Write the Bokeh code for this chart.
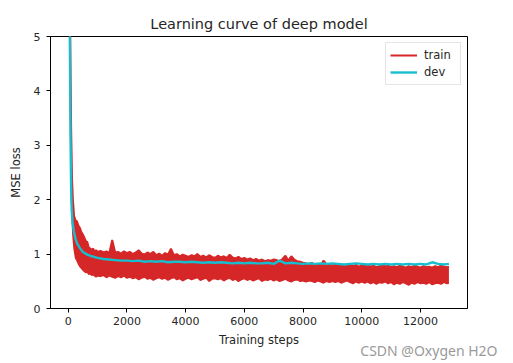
from bokeh.plotting import figure
from bokeh.models import Range1d, FixedTicker, Legend, LegendItem, Title
from bokeh.embed import file_html
from bokeh.resources import INLINE

RED = "#d62728"
CYAN = "#17becf"
TXT = "#262626"
FONT = "DejaVu Sans"

# ---- data ----
train_steps = [
    40, 70, 100, 130, 160, 200, 250, 300, 350, 400, 450, 500, 550, 600, 650,
    700, 750, 800, 850, 900, 950, 1000,
    1100, 1200, 1300, 1400, 1500, 1600, 1700, 1800, 1900, 2000,
    2100, 2200, 2300, 2400, 2500, 2600, 2700, 2800, 2900, 3000,
    3100, 3200, 3300, 3400, 3500, 3600, 3700, 3800, 3900, 4000,
    4100, 4200, 4300, 4400, 4500, 4600, 4700, 4800, 4900, 5000,
    5100, 5200, 5300, 5400, 5500, 5600, 5700, 5800, 5900, 6000,
    6100, 6200, 6300, 6400, 6500, 6600, 6700, 6800, 6900, 7000,
    7100, 7200, 7300, 7400, 7500, 7600, 7700, 7800, 7900, 8000,
    8100, 8200, 8300, 8400, 8500, 8600, 8700, 8800, 8900, 9000,
    9100, 9200, 9300, 9400, 9500, 9600, 9700, 9800, 9900, 10000,
    10100, 10200, 10300, 10400, 10500, 10600, 10700, 10800, 10900, 11000,
    11100, 11200, 11300, 11400, 11500, 11600, 11700, 11800, 11900, 12000,
    12100, 12200, 12300, 12400, 12500, 12600, 12700, 12800, 12900, 12970,
]
# upper edge of the noisy training-loss band
train_hi = [
    6.5, 5.0, 3.3, 2.4, 2.0, 1.7, 1.62, 1.6, 1.52, 1.48, 1.4, 1.36, 1.3, 1.24, 1.22,
    1.12, 1.1, 1.08, 1.1, 1.05, 1.07, 1.04,
    1.06, 1.03, 1.05, 1.02, 1.26, 1.03, 1.04, 1.01, 1.05, 1.02,
    1.04, 1.00, 1.03, 1.07, 1.01, 0.99, 1.03, 1.00, 1.04, 0.98,
    1.01, 0.97, 1.02, 0.99, 1.10, 0.98, 1.00, 0.96, 0.99, 0.97,
    0.95, 0.98, 0.96, 1.00, 0.95, 0.97, 0.94, 0.98, 0.95, 0.93,
    0.97, 0.94, 0.96, 0.93, 0.99, 0.94, 0.92, 0.95, 0.91, 0.93,
    0.90, 0.92, 0.89, 0.91, 0.88, 0.90, 0.87, 0.89, 0.88, 0.90,
    0.89, 0.87, 0.91, 0.97, 0.88, 0.96, 0.90, 0.87, 0.86, 0.84,
    0.83, 0.81, 0.84, 0.80, 0.82, 0.79, 0.88, 0.81, 0.80, 0.79,
    0.81, 0.78, 0.80, 0.77, 0.79, 0.82, 0.78, 0.80, 0.77, 0.79,
    0.78, 0.80, 0.77, 0.79, 0.76, 0.78, 0.81, 0.77, 0.79, 0.76,
    0.78, 0.76, 0.79, 0.77, 0.75, 0.78, 0.76, 0.79, 0.77, 0.75,
    0.78, 0.76, 0.77, 0.75, 0.78, 0.76, 0.79, 0.77, 0.76, 0.77,
]
# lower edge of the noisy training-loss band
train_lo = [
    5.5, 4.0, 2.2, 1.7, 1.35, 1.1, 0.93, 0.88, 0.82, 0.77, 0.74, 0.71, 0.68, 0.66, 0.67,
    0.63, 0.64, 0.61, 0.62, 0.60, 0.58, 0.60,
    0.59, 0.61, 0.57, 0.60, 0.58, 0.56, 0.59, 0.57, 0.60, 0.56,
    0.58, 0.55, 0.57, 0.53, 0.56, 0.58, 0.54, 0.56, 0.52, 0.55,
    0.57, 0.54, 0.56, 0.52, 0.55, 0.57, 0.53, 0.55, 0.51, 0.54,
    0.56, 0.53, 0.55, 0.57, 0.52, 0.54, 0.56, 0.50, 0.54, 0.55,
    0.53, 0.55, 0.51, 0.54, 0.56, 0.52, 0.54, 0.50, 0.53, 0.55,
    0.52, 0.54, 0.51, 0.53, 0.55, 0.50, 0.53, 0.52, 0.54, 0.51,
    0.53, 0.50, 0.52, 0.54, 0.51, 0.49, 0.52, 0.53, 0.50, 0.51,
    0.49, 0.51, 0.50, 0.48, 0.51, 0.49, 0.47, 0.50, 0.48, 0.50,
    0.48, 0.50, 0.47, 0.49, 0.51, 0.48, 0.46, 0.49, 0.47, 0.49,
    0.47, 0.49, 0.46, 0.48, 0.45, 0.48, 0.47, 0.49, 0.46, 0.48,
    0.44, 0.47, 0.45, 0.48, 0.46, 0.43, 0.47, 0.45, 0.48, 0.46,
    0.47, 0.45, 0.48, 0.44, 0.46, 0.47, 0.45, 0.48, 0.46, 0.47,
]

dev_steps = [
    40, 60, 80, 100, 120, 150, 190, 250, 300, 400, 500, 650, 800, 1000,
    1200, 1400, 1600, 1800,
    2000, 2200, 2400, 2600, 2800, 3000, 3200, 3400, 3600, 3800,
    4000, 4200, 4400, 4600, 4800, 5000, 5200, 5400, 5600, 5800,
    6000, 6200, 6400, 6600, 6800, 7000, 7200, 7400, 7600, 7800,
    8000, 8200, 8400, 8600, 8800, 9000, 9200, 9400, 9600, 9800,
    10000, 10200, 10400, 10600, 10800, 11000, 11200, 11400, 11600, 11800,
    12000, 12200, 12400, 12600, 12800, 12970,
]
dev_loss = [
    6.5, 4.6, 3.1, 2.2, 1.8, 1.58, 1.42, 1.28, 1.2, 1.11, 1.04, 0.99, 0.96, 0.93,
    0.91, 0.90, 0.89, 0.88,
    0.88, 0.87, 0.88, 0.86, 0.87, 0.86, 0.87, 0.85, 0.86, 0.86,
    0.85, 0.86, 0.85, 0.84, 0.85, 0.84, 0.85, 0.84, 0.83, 0.84,
    0.83, 0.84, 0.83, 0.83, 0.84, 0.82, 0.88, 0.83, 0.84, 0.83,
    0.82, 0.83, 0.82, 0.83, 0.82, 0.83, 0.82, 0.81, 0.82, 0.83,
    0.82, 0.81, 0.82, 0.81, 0.82, 0.81, 0.82, 0.81, 0.82, 0.81,
    0.82, 0.81, 0.85, 0.82, 0.81, 0.82,
]

x_ticks = [0, 2000, 4000, 6000, 8000, 10000, 12000]
y_ticks = [0, 1, 2, 3, 4, 5]

# ---- figure ----
p = figure(width=513, height=363, output_backend="svg", toolbar_location=None,
           x_range=Range1d(-603, 13603), y_range=Range1d(0, 5),
           min_border_left=50, min_border_right=46, min_border_top=36,
           min_border_bottom=55, title="Learning curve of deep model")

p.title.align = "center"
p.title.text_font = FONT
p.title.text_font_size = "14.5px"
p.title.text_font_style = "normal"
p.title.text_color = TXT

p.varea(x=train_steps, y1=train_lo, y2=train_hi, fill_color=RED, fill_alpha=1.0)
hi_line = p.line(train_steps, train_hi, line_color=RED, line_width=2)
p.line(train_steps, train_lo, line_color=RED, line_width=1.5)
dev_line = p.line(dev_steps, dev_loss, line_color=CYAN, line_width=2.4)

legend = Legend(items=[LegendItem(label="train", renderers=[hi_line]),
                       LegendItem(label="dev", renderers=[dev_line])],
                location="top_right")
legend.label_text_font = FONT
legend.label_text_font_size = "11.5px"
legend.label_text_color = TXT
legend.glyph_width = 27
legend.glyph_height = 16
legend.label_height = 16
legend.label_width = 32
legend.spacing = 1
legend.padding = 4
legend.label_standoff = 7
legend.margin = 6
legend.border_line_color = "#cccccc"
legend.border_line_width = 1
legend.background_fill_alpha = 0.8
p.add_layout(legend)

p.xgrid.visible = False
p.ygrid.visible = False
p.outline_line_color = "black"
p.outline_line_width = 1
p.outline_line_alpha = 1

p.xaxis.ticker = FixedTicker(ticks=x_ticks)
p.yaxis.ticker = FixedTicker(ticks=y_ticks)
p.xaxis.axis_label = "Training steps"
p.yaxis.axis_label = "MSE loss"

for ax in (p.xaxis[0], p.yaxis[0]):
    ax.axis_line_color = "black"
    ax.major_tick_line_color = "black"
    ax.major_tick_out = 4
    ax.major_tick_in = 0
    ax.minor_tick_line_color = None
    ax.major_label_text_font = FONT
    ax.major_label_text_font_size = "11px"
    ax.major_label_text_color = TXT
    ax.axis_label_text_font = FONT
    ax.axis_label_text_font_size = "11.5px"
    ax.axis_label_text_font_style = "normal"
    ax.axis_label_text_color = TXT

p.xaxis[0].major_label_standoff = 4
p.xaxis[0].axis_label_standoff = 5
p.yaxis[0].major_label_standoff = 6
p.yaxis[0].axis_label_standoff = 8

wm = Title(text="CSDN @Oxygen H2O", align="right", offset=-30, standoff=-21,
           text_font="Noto Sans", text_font_size="14px", text_font_style="normal",
           text_color="#9a9a9a", text_line_height=1.0)
p.add_layout(wm, "below")

open("out.html", "w").write(file_html(p, INLINE))
